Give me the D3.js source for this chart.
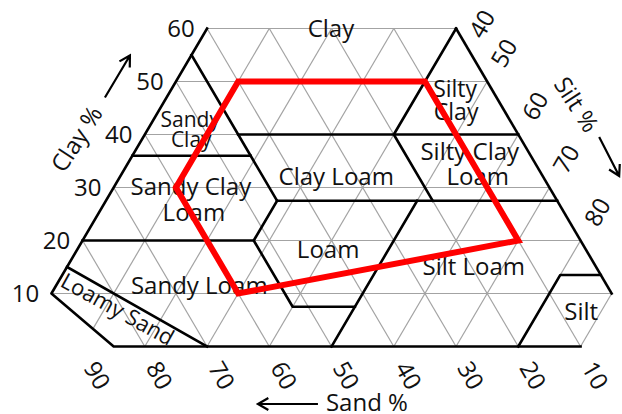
<!DOCTYPE html>
<html>
<head>
<meta charset="utf-8">
<script src="https://cdn.jsdelivr.net/npm/d3@7"></script>
<style>
  body { margin: 0; background: #fff; }
  svg { display: block; font-family: "Open Sans", sans-serif; }
</style>
</head>
<body>
<div id="chart"></div>
<script>
// tick values on the three axes
var clayTicks = [10, 20, 30, 40, 50, 60];
var sandTicks = [90, 80, 70, 60, 50, 40, 30, 20, 10];
var siltTicks = [40, 50, 60, 70, 80];
var gridSteps = [10, 20, 30, 40, 50, 60, 70, 80, 90];

// texture class boundaries, every point is [sand %, clay %]
var boundaries = [
  [[40, 60], [90, 10], [85, 0], [10, 0]],
  [[0, 60], [0, 10]],
  [[85, 15], [70, 0]],
  [[45, 55], [45, 27.5]],
  [[64, 36], [45, 36]],
  [[45, 40], [0, 40]],
  [[0, 60], [20, 40], [20, 27.5]],
  [[45, 27.5], [0, 27.5]],
  [[45, 27.5], [52.5, 20], [52.5, 7.5], [42.5, 7.5]],
  [[80, 20], [52.5, 20]],
  [[22.5, 27.5], [50, 0]],
  [[20, 0], [6.5, 13.5], [0, 13.5]]
];

// red envelope, [sand %, clay %]
var envelope = [[40, 50], [10, 50], [10, 20], [60, 10], [60, 30]];

// class names, one entry per line
var classNames = [
  ["Clay"],
  ["Sandy", "Clay"],
  ["Clay Loam"],
  ["Silty", "Clay"],
  ["Silty Clay", "Loam"],
  ["Sandy Clay", "Loam"],
  ["Loam"],
  ["Silt Loam"],
  ["Sandy Loam"],
  ["Silt"],
  ["Loamy Sand"]
];

// where the names go: [sand %, clay %] of first baseline, font size, line gap, line shift, angle
var labelLayout = [
  {at: [20.9, 58.4], size: 24},
  {at: [52.0, 41.4], size: 21, gap: 20, dx: [0, 1]},
  {at: [34.0, 30.5], size: 24},
  {at: [6.6, 47.1], size: 23, gap: 23.5, dx: [0, 1]},
  {at: [10.2, 35.2], size: 24, gap: 25, dx: [0, 8]},
  {at: [58.3, 28.6], size: 24, gap: 26, dx: [0, 3]},
  {at: [42.2, 16.7], size: 24},
  {at: [20.4, 13.5], size: 24},
  {at: [66.3, 9.9], size: 24},
  {at: [7.4, 5.0], size: 24},
  {at: [82.1, 5.75], size: 22, angle: 29}
];

var width = 622, height = 414;

var svg = d3.select("#chart")
  .append("svg")
  .attr("width", width)
  .attr("height", height);

// u = silt + clay/2 runs along the base, clay runs up
var xScale = d3.scaleLinear().domain([0, 100]).range([20.3, 642.8]);
var yScale = d3.scaleLinear().domain([0, 100]).range([346.5, -183.5]);

function pt(d) {
  var sand = d[0], clay = d[1], silt = 100 - sand - clay;
  return [xScale(silt + clay / 2), yScale(clay)];
}

var line = d3.line().x(function(d) { return pt(d)[0]; }).y(function(d) { return pt(d)[1]; });

// gray grid, clipped to the cut triangle
var grid = [];
gridSteps.forEach(function(v) {
  if (v <= 60) grid.push([[100 - v, v], [0, v]]);                  // clay
  if (v <= 80) grid.push([[v, 0], [v, Math.min(60, 100 - v)]]);     // sand
  var c0 = Math.max(0, (15 - v) / 1.5), c1 = Math.min(60, 100 - v); // silt
  grid.push([[100 - v - c0, c0], [100 - v - c1, c1]]);
});

svg.append("g").selectAll("path")
  .data(grid)
  .enter().append("path")
  .attr("d", line)
  .attr("fill", "none")
  .attr("stroke", "#a3a3a3")
  .attr("stroke-width", 1.2);

// class names
var names = svg.append("g").selectAll("text")
  .data(classNames)
  .enter().append("text")
  .attr("text-anchor", "middle")
  .style("font-size", function(d, i) { return labelLayout[i].size + "px"; })
  .attr("fill", "#111")
  .attr("transform", function(d, i) {
    var p = pt(labelLayout[i].at);
    var r = labelLayout[i].angle ? " rotate(" + labelLayout[i].angle + ")" : "";
    return "translate(" + p[0] + "," + p[1] + ")" + r;
  });

names.selectAll("tspan")
  .data(function(d, i) { return d.map(function(t, j) { return {t: t, j: j, L: labelLayout[i]}; }); })
  .enter().append("tspan")
  .attr("x", function(d) { return d.L.dx ? d.L.dx[d.j] : 0; })
  .attr("y", function(d) { return d.j * (d.L.gap || 0); })
  .text(function(d) { return d.t; });

// class boundaries
svg.append("g").selectAll("path")
  .data(boundaries)
  .enter().append("path")
  .attr("d", line)
  .attr("fill", "none")
  .attr("stroke", "#000")
  .attr("stroke-width", 2.6)
  .attr("stroke-linejoin", "round")
  .attr("stroke-linecap", "square");

// envelope
svg.append("path")
  .datum(envelope)
  .attr("d", function(d) { return line(d) + "Z"; })
  .attr("fill", "none")
  .attr("stroke", "#ff0000")
  .attr("stroke-width", 6)
  .attr("stroke-linejoin", "miter");

// clay ticks on the left edge
svg.append("g").selectAll("text")
  .data(clayTicks)
  .enter().append("text")
  .attr("x", function(d) { return pt([100 - d, d])[0] - 26; })
  .attr("y", function(d) { return pt([100 - d, d])[1] + 8.5; })
  .attr("text-anchor", "middle")
  .style("font-size", "24px")
  .attr("fill", "#111")
  .text(function(d) { return d; });

// sand ticks below the base
svg.append("g").selectAll("text")
  .data(sandTicks)
  .enter().append("text")
  .attr("transform", function(d) {
    var p = pt([d, 0]);
    return "translate(" + (p[0] + 15.5) + "," + (p[1] + 28.5) + ") rotate(60)";
  })
  .attr("text-anchor", "middle")
  .attr("dominant-baseline", "central")
  .style("font-size", "24px")
  .attr("fill", "#111")
  .text(function(d) { return d; });

// silt ticks along the right edge
svg.append("g").selectAll("text")
  .data(siltTicks)
  .enter().append("text")
  .attr("transform", function(d) {
    var p = pt([0, 100 - d]);
    var off = d === 40 ? [25, -5] : [16, -29];
    return "translate(" + (p[0] + off[0]) + "," + (p[1] + off[1]) + ") rotate(-60)";
  })
  .attr("text-anchor", "middle")
  .attr("dominant-baseline", "central")
  .style("font-size", "24px")
  .attr("fill", "#111")
  .text(function(d) { return d; });

// axis titles with arrows
function arrow(x1, y1, x2, y2) {
  var a = Math.atan2(y2 - y1, x2 - x1), h = 12, s = Math.PI / 6;
  return "M" + x1 + "," + y1 + "L" + x2 + "," + y2 +
    "M" + (x2 - h * Math.cos(a - s)) + "," + (y2 - h * Math.sin(a - s)) +
    "L" + x2 + "," + y2 +
    "L" + (x2 - h * Math.cos(a + s)) + "," + (y2 - h * Math.sin(a + s));
}

var clayRef = pt([50, 50]), siltRef = pt([0, 50]), sandRef = pt([50, 0]);

svg.append("text")
  .attr("transform", "translate(" + (clayRef[0] - 100) + "," + (clayRef[1] + 57) + ") rotate(-57)")
  .attr("text-anchor", "middle")
  .attr("dominant-baseline", "central")
  .style("font-size", "24px")
  .attr("fill", "#111")
  .text("Clay %");

svg.append("path")
  .attr("d", arrow(clayRef[0] - 71, clayRef[1] + 16, clayRef[0] - 46, clayRef[1] - 26))
  .attr("fill", "none")
  .attr("stroke", "#000")
  .attr("stroke-width", 2.2);

svg.append("text")
  .attr("transform", "translate(" + (siltRef[0] + 90) + "," + (siltRef[1] + 22.5) + ") rotate(57)")
  .attr("text-anchor", "middle")
  .attr("dominant-baseline", "central")
  .style("font-size", "24px")
  .attr("fill", "#111")
  .text("Silt %");

svg.append("path")
  .attr("d", arrow(siltRef[0] + 112, siltRef[1] + 55.5, siltRef[0] + 132, siltRef[1] + 94.5))
  .attr("fill", "none")
  .attr("stroke", "#000")
  .attr("stroke-width", 2.2);

svg.append("text")
  .attr("x", sandRef[0] + 35.4)
  .attr("y", sandRef[1] + 64.5)
  .attr("text-anchor", "middle")
  .style("font-size", "24px")
  .attr("fill", "#111")
  .text("Sand %");

svg.append("path")
  .attr("d", arrow(sandRef[0] - 13.6, sandRef[1] + 57.5, sandRef[0] - 73.6, sandRef[1] + 57.5))
  .attr("fill", "none")
  .attr("stroke", "#000")
  .attr("stroke-width", 2.2);
</script>
</body>
</html>
